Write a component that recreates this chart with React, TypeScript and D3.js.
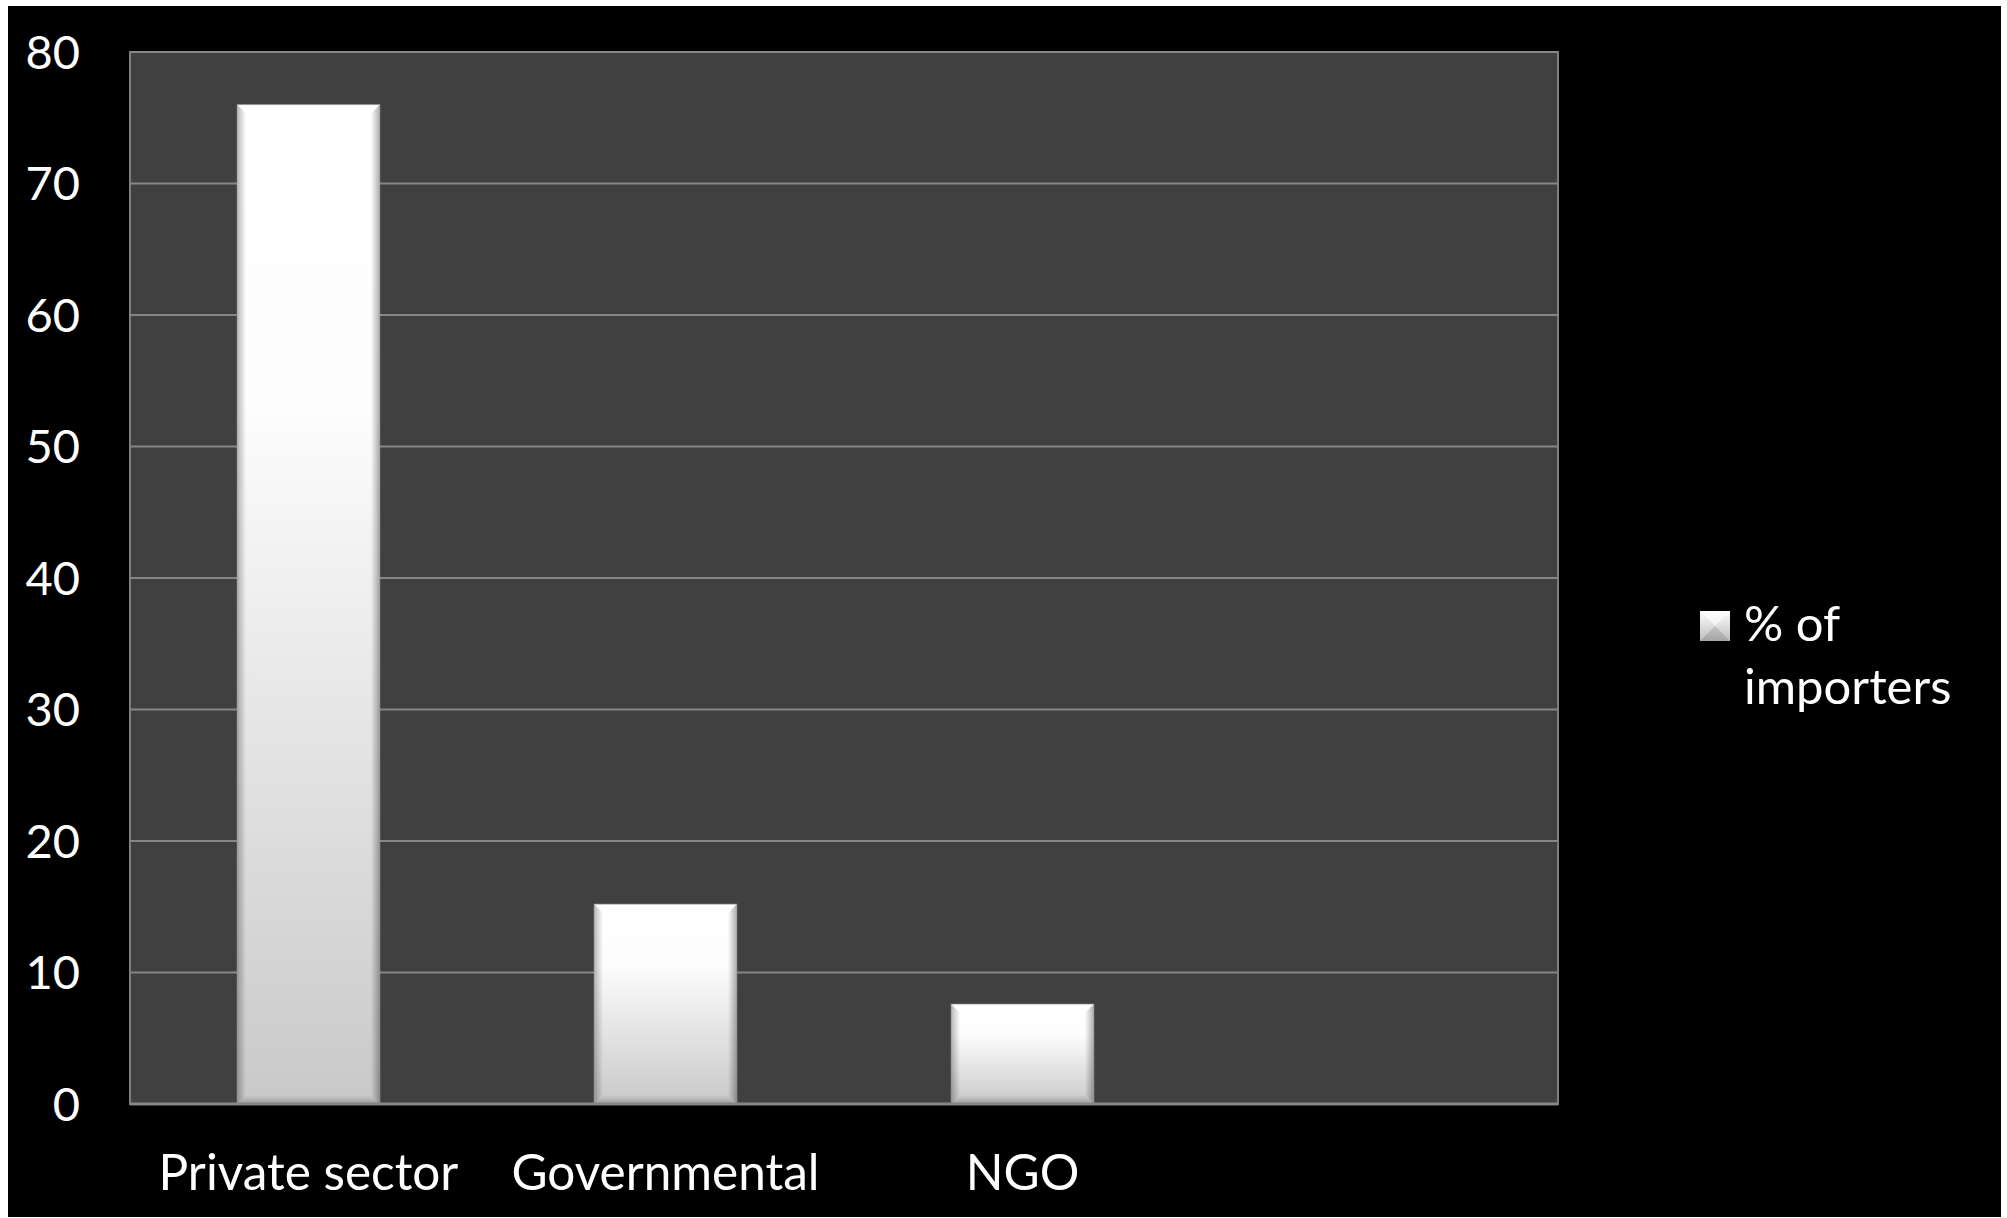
import React from "react";
import * as d3 from "d3";

const categories = ["Private sector", "Governmental", "NGO", ""];
const seriesName = "% of importers";
const values = [76.0, 15.2, 7.6, null as number | null];
const yTicks = [0, 10, 20, 30, 40, 50, 60, 70, 80];

const W = 2007;
const H = 1218;
const FONT = "Lato, 'Open Sans', sans-serif";

export default function App() {
  const plotLeft = 130;
  const plotRight = 1558;
  const plotTop = 52;
  const plotBottom = 1104;

  const x = d3
    .scaleBand<string>()
    .domain(categories.map((c, i) => String(i)))
    .range([plotLeft, plotRight])
    .paddingInner(0.6)
    .paddingOuter(0.3);
  const y = d3.scaleLinear().domain([0, 80]).range([plotBottom, plotTop]);
  const legendLines = ["% of", "importers"];

  return (
    <svg
      width={W}
      height={H}
      style={{ position: "absolute", left: 0, top: 0, display: "block" }}
      fontFamily={FONT}
    >
      <defs>
        <linearGradient id="barFill" x1="0" y1="0" x2="0" y2="1">
          <stop offset="0" stopColor="#ffffff" />
          <stop offset="0.3" stopColor="#fdfdfd" />
          <stop offset="1" stopColor="#c9c9c9" />
        </linearGradient>
        <linearGradient id="edgeL" x1="0" y1="0" x2="1" y2="0">
          <stop offset="0" stopColor="#000" stopOpacity="0.28" />
          <stop offset="1" stopColor="#000" stopOpacity="0" />
        </linearGradient>
        <linearGradient id="edgeR" x1="1" y1="0" x2="0" y2="0">
          <stop offset="0" stopColor="#000" stopOpacity="0.32" />
          <stop offset="1" stopColor="#000" stopOpacity="0" />
        </linearGradient>
        <linearGradient id="edgeB" x1="0" y1="1" x2="0" y2="0">
          <stop offset="0" stopColor="#000" stopOpacity="0.22" />
          <stop offset="1" stopColor="#000" stopOpacity="0" />
        </linearGradient>
        <linearGradient id="legFill" x1="0" y1="0" x2="0" y2="1">
          <stop offset="0" stopColor="#ffffff" />
          <stop offset="1" stopColor="#bdbdbd" />
        </linearGradient>
      </defs>
      <rect x={0} y={0} width={W} height={H} fill="#ffffff" />
      <rect x={8} y={6} width={1993} height={1211} fill="#000000" />

      {/* plot area */}
      <rect
        x={plotLeft}
        y={plotTop}
        width={plotRight - plotLeft}
        height={plotBottom - plotTop}
        fill="#404040"
        stroke="#7f7f7f"
        strokeWidth={2}
      />

      {/* gridlines */}
      {yTicks.map((t) => (
        <line
          key={"g" + t}
          x1={plotLeft}
          x2={plotRight}
          y1={y(t)}
          y2={y(t)}
          stroke="#868686"
          strokeWidth={2}
        />
      ))}

      {/* bars */}
      {values.map((v, i) => {
        if (v == null) return null;
        const bx = x(String(i))!;
        const bw = x.bandwidth();
        const by = y(v);
        const bh = y(0) - by;
        const e = 9;
        return (
          <g key={"b" + i}>
            <rect x={bx} y={by} width={bw} height={bh} fill="url(#barFill)" />
            <path
              d={`M${bx},${by} L${bx + e},${by + e} L${bx + e},${by + bh - e} L${bx},${by + bh} Z`}
              fill="url(#edgeL)"
            />
            <path
              d={`M${bx + bw},${by} L${bx + bw - e},${by + e} L${bx + bw - e},${by + bh - e} L${bx + bw},${by + bh} Z`}
              fill="url(#edgeR)"
            />
            <path
              d={`M${bx},${by + bh} L${bx + e},${by + bh - e} L${bx + bw - e},${by + bh - e} L${bx + bw},${by + bh} Z`}
              fill="url(#edgeB)"
            />
            <rect x={bx} y={by} width={bw} height={bh} fill="none" stroke="#9a9a9a" strokeWidth={1} strokeOpacity={0.6} />
          </g>
        );
      })}

      {/* x axis line */}
      <line
        x1={plotLeft}
        x2={plotRight}
        y1={plotBottom}
        y2={plotBottom}
        stroke="#868686"
        strokeWidth={3}
      />

      {/* y tick labels */}
      {yTicks.map((t) => (
        <text
          key={"t" + t}
          x={80}
          y={y(t)}
          dy="0.36em"
          textAnchor="end"
          fill="#ffffff"
          fontSize={47}
        >
          {t}
        </text>
      ))}

      {/* x category labels */}
      {categories.map((c, i) => (
        <text
          key={"c" + i}
          x={x(String(i))! + x.bandwidth() / 2}
          y={1190}
          textAnchor="middle"
          fill="#ffffff"
          fontSize={49.5}
        >
          {c}
        </text>
      ))}

      {/* legend */}
      <rect x={1700} y={611} width={30} height={30} fill="url(#legFill)" />
      <path d="M1700,611 L1715,626 L1730,611 Z" fill="#ffffff" opacity={0.6} />
      <path d="M1700,641 L1715,626 L1730,641 Z" fill="#000" opacity={0.12} />
      {legendLines.map((l, i) => (
        <text key={"l" + i} x={1744} y={641 + i * 63} fill="#ffffff" fontSize={49}>
          {l}
        </text>
      ))}
    </svg>
  );
}
